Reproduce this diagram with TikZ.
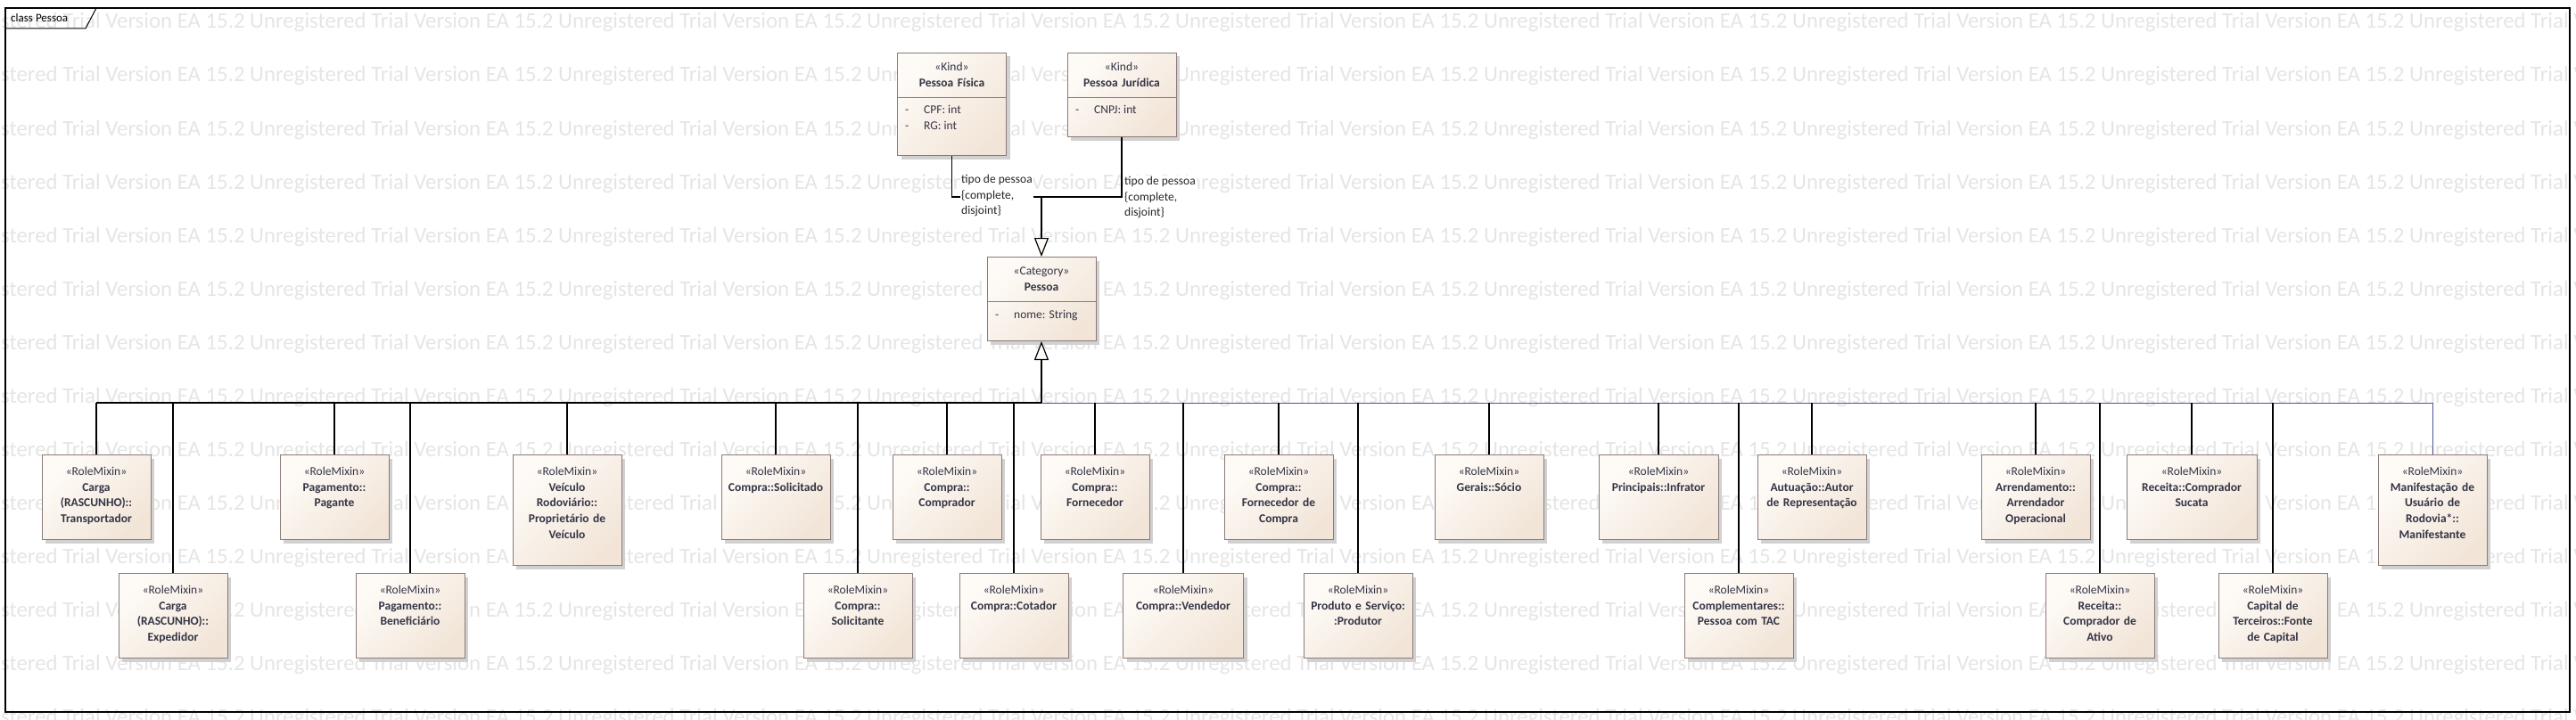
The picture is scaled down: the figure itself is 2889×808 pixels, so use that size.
\documentclass[tikz,border=0pt]{standalone}
\usepackage{fontspec}
\setmainfont{Carlito}
\usetikzlibrary{
    arrows.meta,
    positioning,
    shadows
}
\definecolor{boxline}{RGB}{140,122,122}
\definecolor{boxtop}{RGB}{254,251,247}
\definecolor{boxbot}{RGB}{242,229,216}
\definecolor{boxtext}{RGB}{52,52,70}
\definecolor{busblue}{RGB}{80,86,150}
\definecolor{wmgray}{RGB}{229,229,229}
\newcommand{\wmunit}{Unregistered Trial Version EA 15.2 }
\newcommand{\wmline}{\wmunit\wmunit\wmunit\wmunit\wmunit\wmunit\wmunit\wmunit\wmunit}
\tikzset{
    umlbox/.style = {
        draw = boxline,
        line width = 1pt,
        top color = boxtop,
        bottom color = boxbot,
        shading angle = 45,
        drop shadow = {shadow xshift = 4pt, shadow yshift = -4pt, fill = black!18, opacity = 1},
        anchor = north,
        align = center,
        text = boxtext,
        inner sep = 3pt,
        text width = 116pt,
        text height = 20pt,
        text depth = 69pt
    },
    tall/.style = {text depth = 98pt},
    wide/.style = {text width = #1},
    kind/.style = {umlbox, text height = 17pt, text depth = #1},
    attr/.style = {anchor = base west, inner sep = 0pt, text = boxtext},
    gen/.style = {line width = 1.2pt},
    genhead/.style = {-{Triangle[length = 21pt, width = 16pt, fill = boxtop]}},
    genlabel/.style = {anchor = north west, align = left, inner sep = 1pt, fill = white, text = black!85},
    watermark/.style = {anchor = base west, inner sep = 0pt, text = wmgray, font = \fontsize{24.8}{30}\selectfont}
}

\begin{document}
\begin{tikzpicture}[x = 1pt, y = -1pt, node font = \fontsize{13.5}{17.7}\selectfont]
    \useasboundingbox (0,0) rectangle (2889,808);
    \begin{scope}
        \clip (0,0) rectangle (2889,808);
        \foreach \i in {0,...,13}
            \node[watermark] (wm\i) at (-66, {32 + 60*\i}) {\wmline};
    \end{scope}

    % frame
    \draw[line width = 1.2pt] (6,9) rectangle (2882,799);
    \draw[line width = 1pt] (6,32) -- (96,32) -- (108,9);
    \node[anchor = base west, inner sep = 0pt, font = \fontsize{13}{15}\selectfont] (title) at (12,25) {class Pessoa};

    % kinds and category
    \node[kind = 92pt] (pf) at (1067.5,59) {«Kind»\\\textbf{Pessoa Física}};
    \node[kind = 71pt] (pj) at (1258,59) {«Kind»\\\textbf{Pessoa Jurídica}};
    \node[kind = 71pt] (pessoa) at (1168,288) {«Category»\\\textbf{Pessoa}};
    \draw[boxline, line width = 1pt] (pf.west |- 0,109) -- (pf.east |- 0,109);
    \draw[boxline, line width = 1pt] (pj.west |- 0,109) -- (pj.east |- 0,109);
    \draw[boxline, line width = 1pt] (pessoa.west |- 0,338) -- (pessoa.east |- 0,338);
    \node[attr] (pf-cpf) at (1015,127) {\makebox[21pt][l]{-}CPF: int};
    \node[attr] (pf-rg) at (1015,145) {\makebox[21pt][l]{-}RG: int};
    \node[attr] (pj-cnpj) at (1206,127) {\makebox[21pt][l]{-}CNPJ: int};
    \node[attr] (p-nome) at (1116,357) {\makebox[21pt][l]{-}nome: String};

    % role mixins, upper row
    \node[umlbox] (transp) at (108,510) {«RoleMixin»\\\textbf{Carga\\(RASCUNHO)::\\Transportador}};
    \node[umlbox] (pagante) at (375,510) {«RoleMixin»\\\textbf{Pagamento::\\Pagante}};
    \node[umlbox, tall] (veiculo) at (636,510) {«RoleMixin»\\\textbf{Veículo\\Rodoviário::\\Proprietário de\\Veículo}};
    \node[umlbox] (solicitado) at (870,510) {«RoleMixin»\\\textbf{Compra::Solicitado}};
    \node[umlbox] (comprador) at (1062,510) {«RoleMixin»\\\textbf{Compra::\\Comprador}};
    \node[umlbox] (fornecedor) at (1228,510) {«RoleMixin»\\\textbf{Compra::\\Fornecedor}};
    \node[umlbox] (forncompra) at (1434,510) {«RoleMixin»\\\textbf{Compra::\\Fornecedor de\\Compra}};
    \node[umlbox] (socio) at (1670,510) {«RoleMixin»\\\textbf{Gerais::Sócio}};
    \node[umlbox, wide = 128pt] (infrator) at (1860,510) {«RoleMixin»\\\textbf{Principais::Infrator}};
    \node[umlbox] (autor) at (2032,510) {«RoleMixin»\\\textbf{Autuação::Autor\\de Representação}};
    \node[umlbox] (arrend) at (2283,510) {«RoleMixin»\\\textbf{Arrendamento::\\Arrendador\\Operacional}};
    \node[umlbox, wide = 140pt] (sucata) at (2458,510) {«RoleMixin»\\\textbf{Receita::Comprador\\Sucata}};
    \node[umlbox, tall] (manif) at (2728,510) {«RoleMixin»\\\textbf{Manifestação de\\Usuário de\\Rodovia*::\\Manifestante}};

    % role mixins, lower row
    \node[umlbox] (exped) at (194,643) {«RoleMixin»\\\textbf{Carga\\(RASCUNHO)::\\Expedidor}};
    \node[umlbox] (benef) at (460,643) {«RoleMixin»\\\textbf{Pagamento::\\Beneficiário}};
    \node[umlbox] (solicitante) at (962,643) {«RoleMixin»\\\textbf{Compra::\\Solicitante}};
    \node[umlbox] (cotador) at (1137,643) {«RoleMixin»\\\textbf{Compra::Cotador}};
    \node[umlbox, wide = 129pt] (vendedor) at (1327,643) {«RoleMixin»\\\textbf{Compra::Vendedor}};
    \node[umlbox] (produtor) at (1523,643) {«RoleMixin»\\\textbf{Produto e Serviço:\\:Produtor}};
    \node[umlbox] (tac) at (1950,643) {«RoleMixin»\\\textbf{Complementares::\\Pessoa com TAC}};
    \node[umlbox] (ativo) at (2355,643) {«RoleMixin»\\\textbf{Receita::\\Comprador de\\Ativo}};
    \node[umlbox] (capital) at (2549,643) {«RoleMixin»\\\textbf{Capital de\\Terceiros::Fonte\\de Capital}};

    % generalizations
    \coordinate (join) at (pessoa.north |- 0,221);
    \coordinate (bus) at (pessoa.south |- 0,452);
    \draw[gen] (pf.south) |- (join);
    \draw[gen] (pj.south) |- (join);
    \draw[gen, genhead] (join) -- (pessoa.north);
    \draw[gen, genhead] (bus) -- (pessoa.south);
    \draw[gen] (transp.north |- bus) -- (bus);
    \draw[busblue, line width = 1pt] (bus) -| (manif.north);
    \foreach \n in {transp, exped, pagante, benef, veiculo, solicitado, solicitante,
                    comprador, cotador, fornecedor, vendedor, forncompra, produtor,
                    socio, infrator, tac, autor, arrend, ativo, sucata, capital}
        \draw[gen] (\n.north) -- (\n.north |- bus);

    \node[genlabel] (gl-pf) at (1077,195) {tipo de pessoa\\\{complete,\\disjoint\}};
    \node[genlabel] (gl-pj) at (1260,197) {tipo de pessoa\\\{complete,\\disjoint\}};
\end{tikzpicture}
\end{document}
